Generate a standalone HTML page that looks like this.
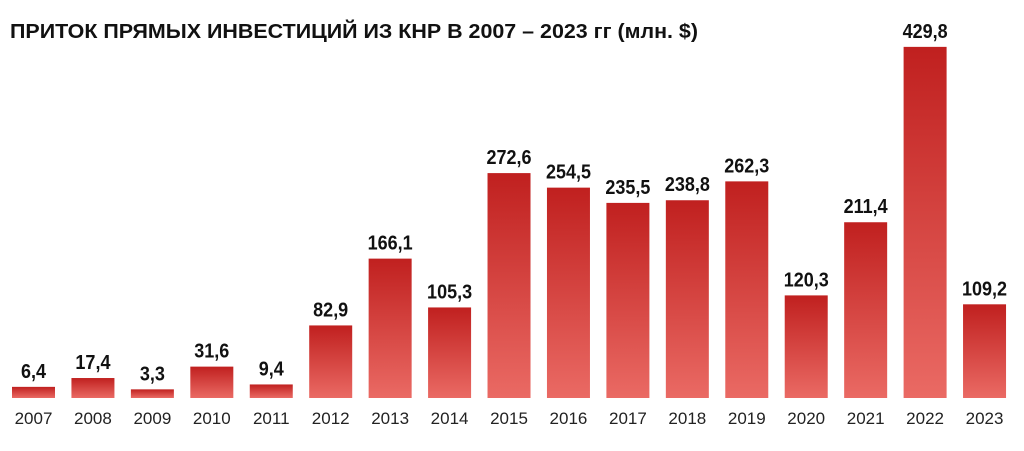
<!DOCTYPE html>
<html><head><meta charset="utf-8"><style>
body{margin:0;background:#fff;}
</style></head><body>
<svg width="1024" height="446" xmlns="http://www.w3.org/2000/svg" font-family="Liberation Sans, sans-serif">
<defs><linearGradient id="g" x1="0" y1="0" x2="0" y2="1">
<stop offset="0" stop-color="#c0201f"/><stop offset="1" stop-color="#ea6a64"/></linearGradient></defs>
<text x="10" y="38" font-size="20" font-weight="bold" fill="#111" textLength="688" lengthAdjust="spacingAndGlyphs">ПРИТОК ПРЯМЫХ ИНВЕСТИЦИЙ ИЗ КНР В 2007 – 2023 гг (млн. $)</text>
<g id="bars"></g>
</svg>
<script>
const d=[[2007,"6,4",6.4],[2008,"17,4",17.4],[2009,"3,3",3.3],[2010,"31,6",31.6],[2011,"9,4",9.4],[2012,"82,9",82.9],[2013,"166,1",166.1],[2014,"105,3",105.3],[2015,"272,6",272.6],[2016,"254,5",254.5],[2017,"235,5",235.5],[2018,"238,8",238.8],[2019,"262,3",262.3],[2020,"120,3",120.3],[2021,"211,4",211.4],[2022,"429,8",429.8],[2023,"109,2",109.2]];
let s="";const base=398;
d.forEach((r,i)=>{const cx=33.5+i*59.44;const h=6+0.803*r[2];const y=base-h;
s+=`<rect x="${cx-21.5}" y="${y}" width="43" height="${h}" fill="url(#g)"/>`;
s+=`<text x="${cx}" y="${y-9}" font-size="20" font-weight="bold" text-anchor="middle" fill="#111" transform="translate(${cx*0.1},0) scale(0.9,1)" >${r[1]}</text>`;
s+=`<text x="${cx}" y="424" font-size="17" text-anchor="middle" fill="#222">${r[0]}</text>`;});
document.getElementById("bars").innerHTML=s;
</script>
</body></html>
